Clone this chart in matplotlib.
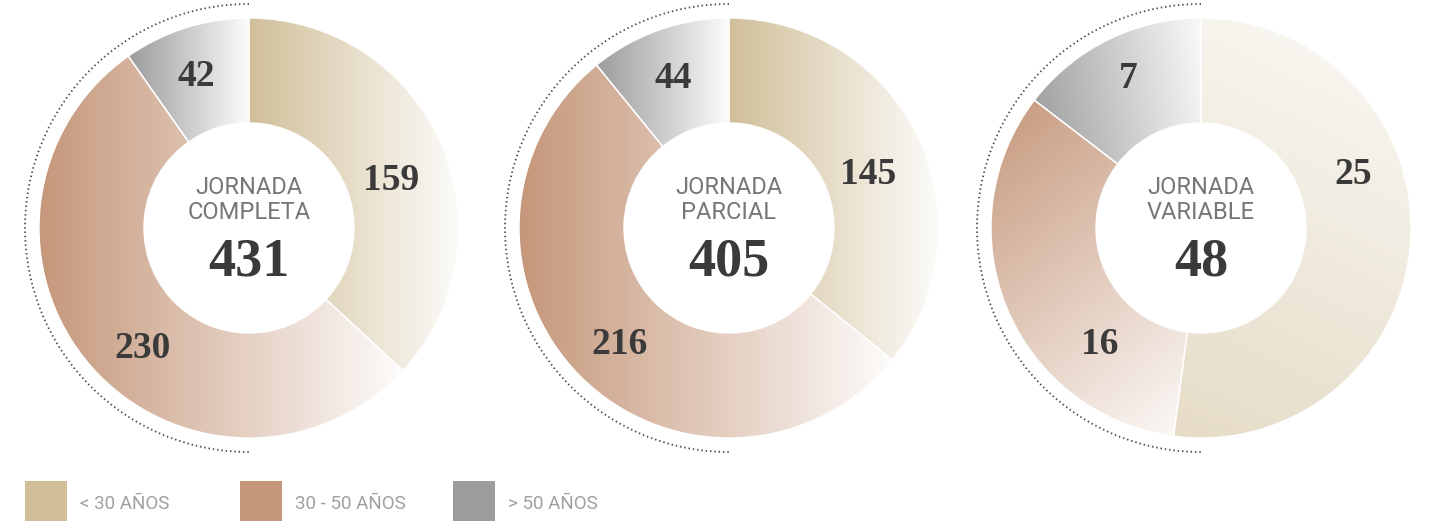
import numpy as np
import matplotlib
matplotlib.use('Agg')
import matplotlib.pyplot as plt
from matplotlib.patches import Arc, Rectangle
from matplotlib.colors import to_rgb

# datos
jornadas = ['JORNADA\nCOMPLETA', 'JORNADA\nPARCIAL', 'JORNADA\nVARIABLE']
totales = [431, 405, 48]
menor_30 = [159, 145, 25]
entre_30_50 = [230, 216, 16]
mayor_50 = [42, 44, 7]
categorias = ['< 30 AÑOS', '30 - 50 AÑOS', '> 50 AÑOS']

colores = ['#D1BF99', '#C5977A', '#9C9C9C']

# estilo / posicion (pixeles)
W, H = 1433, 521
centros_x = [249, 729, 1201]
centro_y = H - 228
r_ext = 210
ancho = 105
r_punteado = 224
# direccion del degradado (grados) y mezcla con blanco (inicio, fin) por segmento
angulos_grad = [[0, 0, 0], [0, 0, 0], [65, -50, 10]]
mezcla_grad = [
    [(0.0, 0.97), (0.0, 0.97), (0.0, 0.97)],
    [(0.0, 0.97), (0.0, 0.97), (0.0, 0.97)],
    [(0.45, 0.85), (0.08, 0.93), (0.05, 0.95)],
]
# posicion de las etiquetas relativa al centro (dx, dy en pixeles de imagen)
pos_etiquetas = [
    [(142, -48), (-106, 120), (-53, -151)],
    [(139, -53), (-109, 117), (-56, -150)],
    [(152, -53), (-101, 117), (-73, -150)],
]

fig = plt.figure(figsize=(W / 100, H / 100), dpi=100)
ax = fig.add_axes([0, 0, 1, 1])


def degradado(ax, wedge, color, ang, mezcla, cx, cy):
    verts = wedge.get_path().vertices
    d = np.array([np.cos(np.radians(ang)), np.sin(np.radians(ang))])
    t = verts @ d
    t0, t1 = t.min(), t.max()
    n = 300
    xs = np.linspace(cx - r_ext, cx + r_ext, n)
    ys = np.linspace(cy - r_ext, cy + r_ext, n)
    X, Y = np.meshgrid(xs, ys)
    f = np.clip((X * d[0] + Y * d[1] - t0) / (t1 - t0), 0, 1)
    f = mezcla[0] + (mezcla[1] - mezcla[0]) * f
    c0 = np.array(to_rgb(color))
    c1 = np.array([1.0, 1.0, 1.0])
    img = c0[None, None, :] * (1 - f[..., None]) + c1[None, None, :] * f[..., None]
    im = ax.imshow(img, extent=(cx - r_ext, cx + r_ext, cy - r_ext, cy + r_ext),
                   origin='lower', interpolation='bilinear', zorder=1)
    im.set_clip_path(wedge)


for i in range(3):
    cx = centros_x[i]
    valores = [menor_30[i], entre_30_50[i], mayor_50[i]]
    wedges, _ = ax.pie(valores, radius=r_ext, center=(cx, centro_y), startangle=90,
                       counterclock=False, colors=colores,
                       wedgeprops=dict(width=ancho, edgecolor='white', linewidth=1))
    for j, w in enumerate(wedges):
        degradado(ax, w, colores[j], angulos_grad[i][j], mezcla_grad[i][j], cx, centro_y)
        # el propio segmento queda encima solo como borde blanco
        w.set_facecolor('none')
        w.set_zorder(2)

    # arco punteado
    ax.add_patch(Arc((cx, centro_y), 2 * r_punteado, 2 * r_punteado, theta1=90, theta2=270,
                     color='#4a4a4a', linewidth=1.3, linestyle=(0, (0.8, 1.6)), zorder=3))

    # etiquetas de los segmentos
    for j, v in enumerate(valores):
        dx, dy = pos_etiquetas[i][j]
        ax.text(cx + dx, centro_y - dy, str(v), ha='center', va='center',
                fontsize=27, fontweight='bold', family='Liberation Serif',
                color='#3a3a3a', zorder=4)

    # texto central
    ax.text(cx, centro_y + 28, jornadas[i], ha='center', va='center', fontsize=17,
            family='Roboto', color='#777777', linespacing=1.15, zorder=4)
    ax.text(cx, centro_y - 34, str(totales[i]), ha='center', va='center', fontsize=39,
            fontweight='bold', family='Liberation Serif', color='#3a3a3a', zorder=4)

# leyenda
leg_x = [25, 240, 453]
for k in range(3):
    ax.add_patch(Rectangle((leg_x[k], 0), 42, 40, facecolor=colores[k], edgecolor='none', zorder=4))
    ax.text(leg_x[k] + 55, 17, categorias[k], ha='left', va='center', fontsize=13.5,
            family='Roboto', color='#a0a0a0', zorder=4)

ax.set_xlim(0, W)
ax.set_ylim(0, H)
ax.set_aspect('equal')
ax.axis('off')

fig.savefig('out.png', dpi=100)
